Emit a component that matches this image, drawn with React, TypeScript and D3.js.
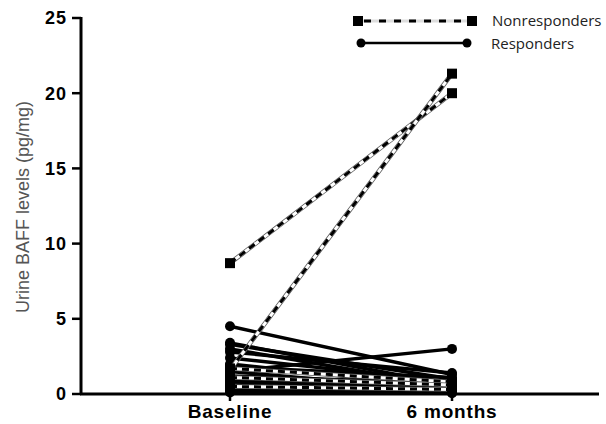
import React from 'react';
import * as d3 from 'd3';

const groups = ['Baseline', '6 months'];
const yTicks = [0, 5, 10, 15, 20, 25];

// responders: [baseline, 6 months]
const responders: [number, number][] = [
  [4.5, 1.3], [3.4, 0.6], [3.3, 1.0], [3.0, 0.5], [2.8, 1.4], [2.4, 0.8],
  [1.5, 3.0], [2.0, 0.4], [1.8, 1.1], [1.5, 0.2], [1.2, 0.7], [1.0, 0.3],
  [0.8, 0.5], [0.6, 0.1], [0.4, 0.2], [0.3, 0.6], [0.2, 0.1], [0.1, 0.05], [0.5, 0.9],
];
const nonresponders: [number, number][] = [
  [8.7, 20.0], [1.6, 21.3], [1.7, 0.8], [1.1, 0.6], [0.5, 0.3],
];

export default function App() {
  const width = 606, height = 424;
  const x = d3.scalePoint<string>().domain(groups).range([230, 452]);
  const y = d3.scaleLinear().domain([0, 25]).range([394, 18]);
  const line = d3.line<[string, number]>().x(d => x(d[0])!).y(d => y(d[1]));
  const pts = (p: [number, number]): [string, number][] => [[groups[0], p[0]], [groups[1], p[1]]];
  const bold = 'Liberation Sans, Arial, sans-serif';
  const soft = 'Open Sans, sans-serif';

  return (
    <svg width={width} height={height} style={{ position: 'absolute', left: 0, top: 0, background: '#fff' }}>
      {/* axes */}
      <line x1={81} x2={81} y1={y(25) - 1} y2={y(0)} stroke="#000" strokeWidth={3} />
      <line x1={80} x2={599} y1={y(0)} y2={y(0)} stroke="#000" strokeWidth={3} />
      {yTicks.map(t => (
        <g key={t}>
          <line x1={72} x2={81} y1={y(t)} y2={y(t)} stroke="#000" strokeWidth={2.5} />
          <text x={67} y={y(t)} dy="0.36em" textAnchor="end" fontFamily={bold} fontWeight="bold" fontSize={18} letterSpacing={1}>{t}</text>
        </g>
      ))}
      {groups.map(g => (
        <g key={g}>
          <line x1={x(g)} x2={x(g)} y1={y(0)} y2={y(0) + 7} stroke="#000" strokeWidth={2.5} />
          <text x={x(g)} y={418} textAnchor="middle" fontFamily={bold} fontWeight="bold" fontSize={19} letterSpacing={0.8}>{g}</text>
        </g>
      ))}
      <text transform={`translate(29,207) rotate(-90)`} textAnchor="middle" fontFamily={bold} fontSize={18} fill="#555">
        Urine BAFF levels (pg/mg)
      </text>

      {/* responders */}
      {responders.map((p, i) => (
        <g key={'r' + i}>
          <path d={line(pts(p))!} stroke="#000" strokeWidth={3.5} fill="none" />
          <circle cx={x(groups[0])} cy={y(p[0])} r={5} fill="#000" />
          <circle cx={x(groups[1])} cy={y(p[1])} r={5} fill="#000" />
        </g>
      ))}
      {/* nonresponders */}
      {nonresponders.map((p, i) => (
        <g key={'n' + i}>
          <path d={line(pts(p))!} stroke="#555" strokeWidth={4.5} fill="none" />
          <path d={line(pts(p))!} stroke="#fff" strokeWidth={3} fill="none" />
          <path d={line(pts(p))!} stroke="#000" strokeWidth={3} strokeDasharray="7 5" fill="none" />
          <rect x={x(groups[0])! - 5} y={y(p[0]) - 5} width={10} height={10} fill="#000" />
          <rect x={x(groups[1])! - 5} y={y(p[1]) - 5} width={10} height={10} fill="#000" />
        </g>
      ))}

      {/* legend */}
      <line x1={358} x2={472} y1={21} y2={21} stroke="#ddd" strokeWidth={3} />
      <line x1={358} x2={472} y1={21} y2={21} stroke="#000" strokeWidth={3} strokeDasharray="7 8" strokeDashoffset={-6} />
      <rect x={353} y={16} width={10} height={10} fill="#000" />
      <rect x={467} y={16} width={10} height={10} fill="#000" />
      <text x={492} y={21} dy="0.36em" fontFamily={soft} fontSize={15} fill="#222">Nonresponders</text>
      <line x1={361} x2={467} y1={43} y2={43} stroke="#000" strokeWidth={2.5} />
      <circle cx={361} cy={43} r={4.5} fill="#000" />
      <circle cx={467} cy={43} r={4.5} fill="#000" />
      <text x={491} y={44} dy="0.36em" fontFamily={soft} fontSize={15} fill="#222">Responders</text>
    </svg>
  );
}
